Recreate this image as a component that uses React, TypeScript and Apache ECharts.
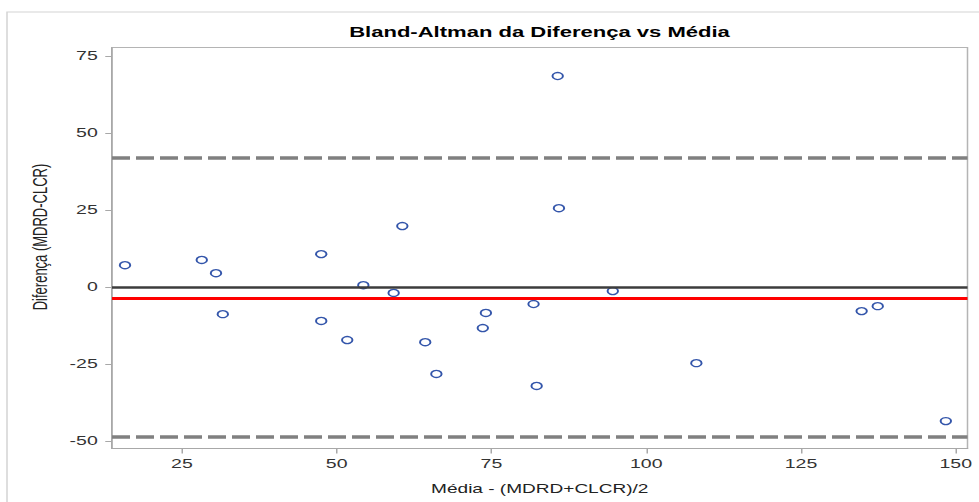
import React, { useEffect, useRef } from "react";
import * as echarts from "echarts";

// Data
const meanValues = [15.8, 28.2, 30.5, 31.6, 47.5, 47.5, 51.7, 54.3, 59.2, 60.6, 64.3, 66.1, 73.6, 74.1, 81.8, 82.3, 85.7, 85.9, 94.6, 108.1, 134.8, 137.4, 148.4];
const diffValues = [7.1, 8.8, 4.5, -8.8, 10.7, -11.0, -17.2, 0.6, -1.9, 19.8, -17.9, -28.2, -13.3, -8.4, -5.5, -32.1, 68.5, 25.6, -1.3, -24.7, -7.8, -6.2, -43.5];
const xTicks = [25, 50, 75, 100, 125, 150];
const yTicks = [-50, -25, 0, 25, 50, 75];
const zeroLine = 0;
const meanDiff = -3.5;
const upperLimit = 41.9;
const lowerLimit = -48.7;

const W = 979;
const H = 502;
const S = 1.5; // horizontal stretch of the reference
const FONT = "'Liberation Sans', Arial, Helvetica, sans-serif";

export default function App() {
  const ref = useRef<HTMLDivElement>(null);

  useEffect(() => {
    if (!ref.current) return;
    const chart = echarts.init(ref.current, undefined, { renderer: "svg" });
    const points = meanValues.map((m, i) => [m, diffValues[i]]);
    chart.setOption({
      animation: false,
      backgroundColor: "#ffffff",
      textStyle: { fontFamily: FONT },
      title: {
        text: "Bland-Altman da Diferença vs Média",
        left: 539.5 / S,
        textAlign: "center",
        top: 24,
        padding: 0,
        textStyle: { fontSize: 14.7, fontWeight: "bold", color: "#000000", fontFamily: FONT },
      },
      graphic: [
        {
          type: "rect",
          shape: { x: 7 / S, y: 12, width: 1000, height: 1000 },
          style: { fill: "none", stroke: "#d4d4d4", lineWidth: 1 },
          silent: true,
          z: 0,
        },
      ],
      grid: {
        left: 112 / S,
        right: (W - 967) / S,
        top: 47.5,
        bottom: H - 448.5,
        show: true,
        borderColor: "#b4b4b4",
        borderWidth: 1,
        backgroundColor: "transparent",
      },
      xAxis: {
        type: "value",
        min: 13.7,
        max: 151.9,
        name: "Média - (MDRD+CLCR)/2",
        nameLocation: "middle",
        nameGap: 33,
        nameTextStyle: { fontSize: 12.7, color: "#222222", fontFamily: FONT },
        axisLine: { show: true, onZero: false, lineStyle: { color: "#a8a8a8", width: 1 } },
        axisTick: { show: true, length: 5, customValues: xTicks, lineStyle: { color: "#a8a8a8" } },
        axisLabel: { customValues: xTicks, fontSize: 13, color: "#333333", margin: 9, fontFamily: FONT },
        splitLine: { show: false },
      },
      yAxis: {
        type: "value",
        min: -52.4,
        max: 77.76,
        name: "Diferença (MDRD-CLCR)",
        nameLocation: "middle",
        nameGap: 41,
        nameTextStyle: { fontSize: 13, color: "#222222", fontFamily: FONT, padding: [0, 0, 0, 22] },
        axisLine: { show: true, onZero: false, lineStyle: { color: "#a8a8a8", width: 1 } },
        axisTick: { show: true, length: 4.5, customValues: yTicks, lineStyle: { color: "#a8a8a8" } },
        axisLabel: { customValues: yTicks, fontSize: 13, color: "#333333", margin: 9.5, fontFamily: FONT },
        splitLine: { show: false },
      },
      series: [
        {
          type: "line",
          data: [],
          silent: true,
          z: 1,
          markLine: {
            silent: true,
            symbol: ["none", "none"],
            label: { show: false },
            animation: false,
            data: [
              { yAxis: upperLimit, lineStyle: { color: "#808080", width: 3.5, type: [12, 4] } },
              { yAxis: lowerLimit, lineStyle: { color: "#808080", width: 3.5, type: [12, 4] } },
              { yAxis: zeroLine, lineStyle: { color: "#3c3c3c", width: 2.5, type: "solid" } },
              { yAxis: meanDiff, lineStyle: { color: "#ff0000", width: 3, type: "solid" } },
            ],
          },
        },
        {
          type: "scatter",
          data: points,
          symbol: "circle",
          symbolSize: 7,
          z: 3,
          itemStyle: { color: "rgba(255,255,255,0)", borderColor: "#3355aa", borderWidth: 1.3, opacity: 1 },
        },
      ],
    });
    return () => chart.dispose();
  }, []);

  return (
    <div
      style={{
        position: "absolute",
        left: 0,
        top: 0,
        width: W,
        height: H,
        overflow: "hidden",
        background: "#ffffff",
      }}
    >
      <div
        ref={ref}
        style={{
          position: "absolute",
          left: 0,
          top: 0,
          width: W / S,
          height: H,
          transform: `scaleX(${S})`,
          transformOrigin: "0 0",
        }}
      />
    </div>
  );
}
